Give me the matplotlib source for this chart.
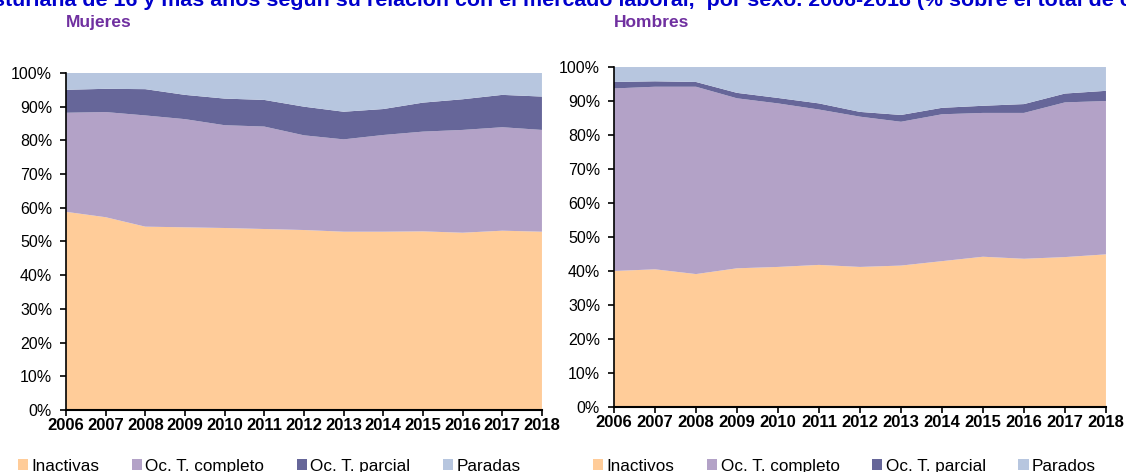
import matplotlib
matplotlib.use('Agg')
import matplotlib.pyplot as plt
from matplotlib.patches import Patch
from matplotlib.ticker import PercentFormatter

plt.rcParams['font.family'] = ['Liberation Sans', 'DejaVu Sans']

# Data (% over total of each sex)
years = [2006, 2007, 2008, 2009, 2010, 2011, 2012, 2013, 2014, 2015, 2016, 2017, 2018]

muj_inactivas = [58.8, 57.2, 54.4, 54.2, 54.0, 53.7, 53.4, 52.9, 52.9, 53.0, 52.6, 53.2, 52.9]
muj_completo = [29.4, 31.2, 33.0, 32.1, 30.5, 30.4, 28.1, 27.4, 28.7, 29.6, 30.5, 30.7, 30.2]
muj_parcial = [6.8, 6.9, 7.8, 7.2, 7.9, 7.9, 8.5, 8.2, 7.7, 8.6, 9.1, 9.6, 9.9]
muj_paradas = [5.0, 4.7, 4.8, 6.5, 7.6, 8.0, 10.0, 11.5, 10.7, 8.8, 7.8, 6.5, 7.0]

hom_inactivos = [40.0, 40.5, 39.1, 40.8, 41.2, 41.8, 41.2, 41.6, 42.9, 44.2, 43.6, 44.1, 44.9]
hom_completo = [53.7, 53.7, 55.1, 50.0, 48.1, 45.7, 44.2, 42.3, 43.2, 42.3, 42.9, 45.5, 45.1]
hom_parcial = [1.9, 1.6, 1.4, 1.6, 1.6, 1.8, 1.4, 2.0, 1.9, 2.1, 2.6, 2.6, 3.0]
hom_parados = [4.4, 4.2, 4.4, 7.6, 9.1, 10.7, 13.2, 14.1, 12.0, 11.4, 10.9, 7.8, 7.0]

colors = ['#FFCC99', '#B3A2C7', '#666699', '#B7C6DF']

fig = plt.figure(figsize=(11.26, 4.72), dpi=100)

# title is wider than the picture and gets cut on both sides, as in the source
title = ('Población asturiana de 16 y más años según su relación con el mercado laboral,  '
         'por sexo. 2006-2018 (% sobre el total de cada sexo)')
fig.text(-0.113, 1.0, title, ha='left', va='center', fontsize=15.4,
         fontweight='bold', color='#0000CC')

panels = [
    ([0.0586, 0.1314, 0.4227, 0.7140], 'Mujeres', 0.239,
     [muj_inactivas, muj_completo, muj_parcial, muj_paradas],
     ['Inactivas', 'Oc. T. completo', 'Oc. T. parcial', 'Paradas']),
    ([0.5453, 0.1377, 0.4369, 0.7203], 'Hombres', 0.750,
     [hom_inactivos, hom_completo, hom_parcial, hom_parados],
     ['Inactivos', 'Oc. T. completo', 'Oc. T. parcial', 'Parados']),
]

for rect, name, leg_x, series, labels in panels:
    ax = fig.add_axes(rect)
    ax.stackplot(years, *series, colors=colors, linewidth=0)
    ax.set_xlim(years[0], years[-1])
    ax.set_ylim(0, 100)
    ax.set_xticks(years)
    ax.set_xticklabels([str(y) for y in years], fontsize=12, fontweight='bold')
    ax.set_yticks(range(0, 101, 10))
    ax.yaxis.set_major_formatter(PercentFormatter(decimals=0))
    ax.tick_params(axis='y', labelsize=11.5, length=4, width=1.2, pad=6)
    ax.tick_params(axis='x', length=4, width=1.2, pad=2)
    ax.spines['top'].set_visible(False)
    ax.spines['right'].set_visible(False)
    ax.spines['left'].set_linewidth(1.2)
    ax.spines['bottom'].set_linewidth(1.5)

    fig.text(rect[0], 0.953, name, ha='left', va='center', fontsize=12.5,
             fontweight='bold', color='#7030A0')

    handles = [Patch(facecolor=c, edgecolor='none', label=l) for c, l in zip(colors, labels)]
    fig.legend(handles=handles, loc='center', ncol=4, frameon=False,
               bbox_to_anchor=(leg_x, 0.012),
               fontsize=12.3, handlelength=0.6, handleheight=0.6,
               handletextpad=0.2, columnspacing=1.9)

fig.savefig('out.png', dpi=100)
